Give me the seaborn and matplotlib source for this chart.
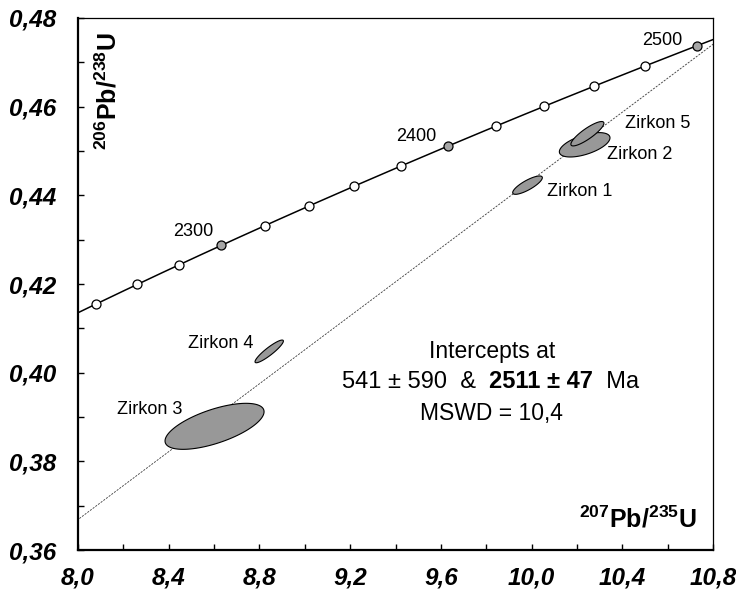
import numpy as np
import pandas as pd
import matplotlib
matplotlib.use("Agg")
import matplotlib.pyplot as plt
from matplotlib.ticker import MultipleLocator, FuncFormatter
import seaborn as sns

# Decay constants (1/yr) for 238U and 235U
LAMBDA_238 = 1.55125e-10
LAMBDA_235 = 9.8485e-10

# Concordia age markers (Ma) and which ones are labelled / shaded
marker_ages = [2240, 2260, 2280, 2300, 2320, 2340, 2360, 2380, 2400,
               2420, 2440, 2460, 2480, 2500]
labelled_ages = [2300, 2400, 2500]
label_x = [8.506, 9.490, 10.574]
label_y = [0.4318, 0.4533, 0.4750]

# Discordia intercepts (Ma)
lower_intercept = 541
upper_intercept = 2511

# Zircon analyses: centre, half-widths of the error ellipse and correlation
zircon_names = ["Zirkon 1", "Zirkon 2", "Zirkon 3", "Zirkon 4", "Zirkon 5"]
pb207_u235 = [9.982, 10.234, 8.602, 8.843, 10.246]
pb206_u238 = [0.4423, 0.4514, 0.3879, 0.4048, 0.4539]
half_x = [0.0653, 0.1116, 0.2183, 0.0625, 0.0728]
half_y = [0.00207, 0.00275, 0.00519, 0.00256, 0.00275]
rho = [0.81, 0.57, 0.635, 0.91, 0.86]
name_x = [10.067, 10.331, 8.173, 8.486, 10.412]
name_y = [0.4408, 0.4491, 0.3918, 0.4066, 0.4563]


def ratio206(age_ma):
    return np.expm1(LAMBDA_238 * np.asarray(age_ma, float) * 1e6)


def ratio207(age_ma):
    return np.expm1(LAMBDA_235 * np.asarray(age_ma, float) * 1e6)


sns.set_theme(style="white")
plt.rcParams["font.family"] = ["Liberation Sans", "DejaVu Sans"]
plt.rcParams["text.color"] = "black"
plt.rcParams["mathtext.fontset"] = "custom"
plt.rcParams["mathtext.rm"] = "Liberation Sans"
plt.rcParams["mathtext.bf"] = "Liberation Sans:bold"

fig = plt.figure(figsize=(7.36, 5.92), dpi=100)
ax = fig.add_axes([0.106, 0.0709, 0.8628, 0.8987])
ax.set_xlim(8.0, 10.8)
ax.set_ylim(0.36, 0.48)

# Concordia curve
curve_ages = np.arange(2200, 2531, 2)
concordia = pd.DataFrame({"x": ratio207(curve_ages), "y": ratio206(curve_ages)})
sns.lineplot(data=concordia, x="x", y="y", sort=False, color="black",
             linewidth=1.1, ax=ax, zorder=3)

# Discordia through the two intercepts
disc_ages = [lower_intercept, upper_intercept]
dx = ratio207(disc_ages)
dy = ratio206(disc_ages)
slope = (dy[1] - dy[0]) / (dx[1] - dx[0])
line_x = np.array([7.9, 10.9])
discordia = pd.DataFrame({"x": line_x, "y": dy[0] + slope * (line_x - dx[0])})
sns.lineplot(data=discordia, x="x", y="y", color="#3a3a3a", linewidth=0.6,
             linestyle=(0, (2.5, 1.5)), ax=ax, zorder=2)

# Error ellipses
t = np.linspace(0, 2 * np.pi, 200)
for cx, cy, hx, hy, r in zip(pb207_u235, pb206_u238, half_x, half_y, rho):
    ex = cx + hx * np.cos(t)
    ey = cy + hy * (r * np.cos(t) + np.sqrt(1 - r ** 2) * np.sin(t))
    ax.fill(ex, ey, facecolor="#989898", edgecolor="black", linewidth=0.8,
            zorder=4)

for name, tx, ty in zip(zircon_names, name_x, name_y):
    ax.text(tx, ty, name, fontsize=13, ha="left", va="center", zorder=6)

# Concordia age markers
markers = pd.DataFrame({"x": ratio207(marker_ages), "y": ratio206(marker_ages),
                        "labelled": [a in labelled_ages for a in marker_ages]})
sns.scatterplot(data=markers[~markers.labelled], x="x", y="y", s=42,
                color="white", edgecolor="black", linewidth=0.9, ax=ax,
                zorder=5, legend=False)
sns.scatterplot(data=markers[markers.labelled], x="x", y="y", s=42,
                color="#a6a6a6", edgecolor="black", linewidth=0.9, ax=ax,
                zorder=5, legend=False)
for age, tx, ty in zip(labelled_ages, label_x, label_y):
    ax.text(tx, ty, str(age), fontsize=13, ha="center", va="center", zorder=6)

# Intercept summary
ax.text(9.824, 0.4047, "Intercepts at", fontsize=16.5, ha="center",
        va="center")
part1 = ax.text(9.164, 0.3979, f"{lower_intercept} ± 590  &  ", fontsize=17,
                ha="left", va="center")
part2 = ax.annotate(f"{upper_intercept} ± 47", xy=(1, 0.5), xycoords=part1,
                    fontsize=17, fontweight="bold", ha="left", va="center")
ax.annotate("  Ma", xy=(1, 0.5), xycoords=part2, fontsize=17, ha="left",
            va="center")
ax.text(9.824, 0.3909, "MSWD = 10,4", fontsize=16.5, ha="center", va="center")

# Axis titles inside the frame
ax.text(0.047, 0.974, r"$^{\mathbf{206}}$Pb/$^{\mathbf{238}}$U",
        transform=ax.transAxes, rotation=90, fontsize=18, fontweight="bold",
        ha="center", va="top")
ax.text(0.975, 0.043, r"$^{\mathbf{207}}$Pb/$^{\mathbf{235}}$U",
        transform=ax.transAxes, fontsize=18, fontweight="bold",
        ha="right", va="baseline")

# Axes styling
ax.set_xlabel("")
ax.set_ylabel("")
ax.xaxis.set_major_locator(MultipleLocator(0.4))
ax.xaxis.set_minor_locator(MultipleLocator(0.2))
ax.yaxis.set_major_locator(MultipleLocator(0.02))
ax.yaxis.set_minor_locator(MultipleLocator(0.01))
ax.xaxis.set_major_formatter(FuncFormatter(lambda v, p: f"{v:.1f}".replace(".", ",")))
ax.yaxis.set_major_formatter(FuncFormatter(lambda v, p: f"{v:.2f}".replace(".", ",")))
ax.tick_params(which="both", direction="in", length=4.5, width=1.0,
               color="black", top=False, right=False, bottom=True, left=True)
ax.tick_params(axis="x", which="major", pad=12)
ax.tick_params(axis="y", which="major", pad=16)
for lab in ax.get_xticklabels() + ax.get_yticklabels():
    lab.set_fontweight("bold")
    lab.set_fontstyle("italic")
    lab.set_fontsize(17.5)
    lab.set_color("black")

for side in ["left", "bottom"]:
    ax.spines[side].set_linewidth(1.6)
for side in ["top", "right"]:
    ax.spines[side].set_linewidth(0.9)
for sp in ax.spines.values():
    sp.set_color("black")
    sp.set_visible(True)

fig.savefig("out.png", dpi=100, facecolor="white")
